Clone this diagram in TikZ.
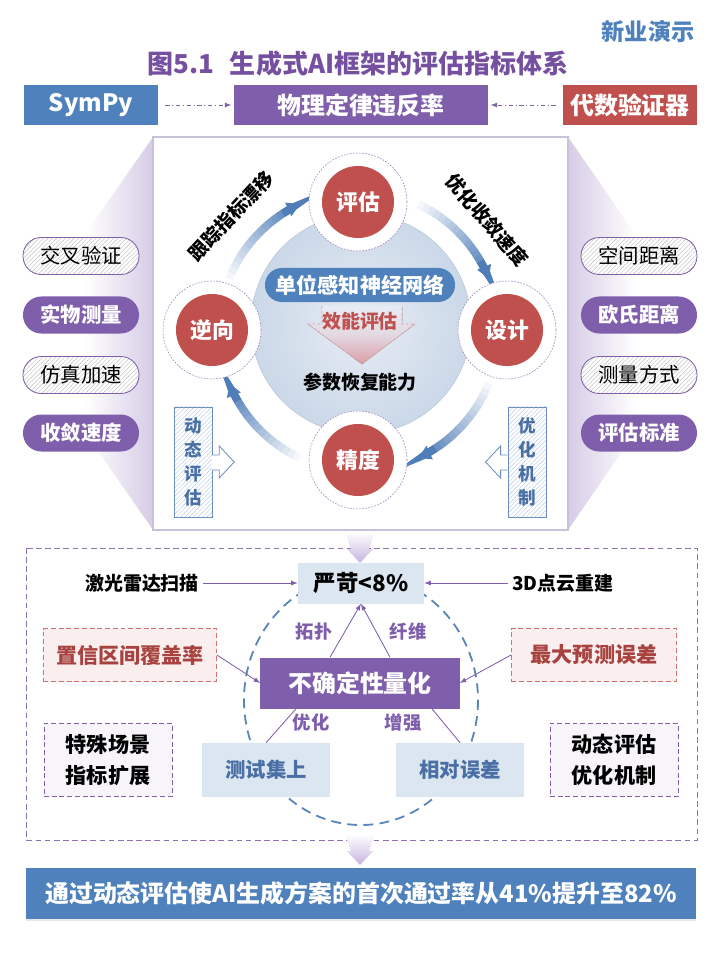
\documentclass[tikz,border=0pt]{standalone}
\usepackage{fontspec}
\setmainfont{Noto Sans CJK SC}
\usetikzlibrary{arrows.meta,patterns.meta,shadows,calc}
\definecolor{hdblue}{HTML}{4F81BD}
\definecolor{hdpurple}{HTML}{7F5FAB}
\definecolor{hdred}{HTML}{C0504D}
\definecolor{titlepurple}{HTML}{7650A0}
\definecolor{lavender}{HTML}{D6CCE6}
\definecolor{panelline}{HTML}{C9C1DA}
\definecolor{paleblue}{HTML}{DCE6F1}
\definecolor{hubin}{HTML}{E6ECF4}
\definecolor{hubout}{HTML}{CBD8E8}
\definecolor{hubline}{HTML}{B9C9DD}
\definecolor{arcblue}{HTML}{4F7DB8}
\definecolor{pinktip}{HTML}{DB9EA7}
\definecolor{boxblue}{HTML}{6E8FBE}
\definecolor{hatchblue}{HTML}{B9CBE3}
\definecolor{steelblue}{HTML}{4A6FA5}
\definecolor{brickred}{HTML}{A8423F}
\definecolor{palepink}{HTML}{FAEEEE}
\definecolor{palelilac}{HTML}{F7F4FA}
\definecolor{ellblue}{HTML}{5B86B8}
\definecolor{arrowlilac}{HTML}{C7B4E0}
\begin{document}
\begin{tikzpicture}[x=0.025cm,y=-0.025cm,>=latex,
  every node/.style={inner sep=0pt},
  topbox/.style={minimum height=0.975cm,text=white,font=\bfseries\fontsize{17}{20}\selectfont},
  pill/.style={rounded corners=13pt,minimum width=2.9cm,minimum height=0.925cm,font=\fontsize{14.5}{17}\selectfont},
  hatchpill/.style={pill,draw=hdpurple,line width=0.6pt,preaction={fill=white},pattern={Lines[angle=45,distance=2.2pt,line width=0.3pt]},pattern color=black!25},
  fillpill/.style={pill,fill=hdpurple,text=white,font=\bfseries\fontsize{14.5}{17}\selectfont},
  ring/.style={circle,draw=hdpurple!80,dash pattern=on 1.2pt off 1pt,line width=0.4pt,fill=white,minimum size=2.45cm},
  stage/.style={circle,fill=hdred,text=white,minimum size=1.8cm,font=\bfseries\fontsize{15.5}{18}\selectfont},
  vbox/.style={draw=boxblue,line width=0.6pt,minimum width=0.95cm,minimum height=2.75cm,preaction={fill=white},pattern={Lines[angle=45,distance=2.2pt,line width=0.3pt]},pattern color=hatchblue,text=steelblue,align=center,font=\bfseries\fontsize{12.5}{17}\selectfont},
  flow/.style={->,hdpurple,line width=0.6pt},
  bluebox/.style={fill=paleblue,font=\bfseries\fontsize{14.5}{17}\selectfont},
  redbox/.style={fill=palepink,draw=hdred!80,dash pattern=on 3.5pt off 2pt,line width=0.6pt,minimum height=1.325cm,text=brickred,font=\bfseries\fontsize{15}{18}\selectfont},
  notebox/.style={fill=palelilac,draw=hdpurple,dash pattern=on 3.5pt off 2pt,line width=0.6pt,minimum width=3.2cm,minimum height=1.825cm,align=center,font=\bfseries\fontsize{15}{22}\selectfont},
  tag/.style={text=hdpurple,font=\bfseries\fontsize{13}{15}\selectfont}]
  \useasboundingbox (0,0) rectangle (720,960);
  \node[text=hdblue,font=\bfseries\fontsize{16.5}{19}\selectfont] (brand) at (648,32) {新业演示};
  \node[text=titlepurple,font=\bfseries\fontsize{18.5}{22}\selectfont] (title) at (358,64) {图5.1\hspace{0.6em}生成式AI框架的评估指标体系};
  \node[topbox,fill=hdblue,minimum width=3.35cm] (sympy) at (91,105) {SymPy};
  \node[topbox,fill=hdpurple,minimum width=6.325cm] (law) at (361,105) {物理定律违反率};
  \node[topbox,fill=hdred,minimum width=3.35cm] (verifier) at (630,105) {代数验证器};
  \draw[flow,hdpurple!80!gray,dash dot,shorten <=5pt,shorten >=2pt] (sympy) -- (law);
  \draw[flow,hdpurple!80!gray,dash dot,shorten <=5pt,shorten >=2pt] (verifier) -- (law);

  \shade[left color=white,right color=lavender,middle color=white] (153,137) -- (16,333) -- (153,530) -- cycle;
  \shade[left color=lavender,right color=white,middle color=white] (568,137) -- (704,333) -- (568,530) -- cycle;
  \draw[panelline,line width=0.8pt,fill=white] (153,137) rectangle (568,530);

  \coordinate (hub) at (359,331);
  \draw[hubline,line width=0.4pt,inner color=hubin,outer color=hubout] (361,324) circle[radius=110];
  \foreach \a in {-158,-65,22,115}{
    \foreach \i in {0,...,13}{
      \pgfmathtruncatemacro\c{6+6*\i}
      \draw[line width=5.8pt,arcblue!\c!white] ([shift={(\a+2.5*\i:140)}]hub) arc[start angle=\a+2.5*\i,end angle=\a+2.5*\i+2.6,radius=140];
    }
    \draw[line width=5.8pt,arcblue,-{Triangle[length=9pt,width=10pt]}] ([shift={(\a+35:140)}]hub) arc[start angle=\a+35,end angle=\a+43,radius=140];
  }
  \fill[top color=hubin,bottom color=pinktip,middle color=hubin!75!pinktip] (322,306) -- (402,306) -- (402,324) -- (415,324) -- (362,364) -- (308,324) -- (322,324) -- cycle;
  \draw[pinktip,line width=0.5pt,dash pattern=on 2pt off 1.5pt] (322,306) -- (322,324) -- (308,324) -- (362,364) -- (415,324) -- (402,324) -- (402,306);
  \node[fill=hdblue,rounded corners=12pt,minimum width=4.75cm,minimum height=0.85cm,text=white,font=\bfseries\fontsize{15}{18}\selectfont] (unet) at (360,285) {单位感知神经网络};
  \node[text=hdred,font=\bfseries\fontsize{13.5}{16}\selectfont] (effic) at (360,321) {效能评估};
  \node[font=\bfseries\fontsize{13.5}{16}\selectfont] (recov) at (360,382) {参数恢复能力};
  \foreach \n/\x/\y/\t in {eval/358/202/评估,inverse/212/330/逆向,design/507/330/设计,prec/358/460/精度}{
    \node[ring] (\n ring) at (\x,\y) {};
    \node[stage] (\n) at (\x,\y) {\t};
  }
  \node[rotate=47,font=\bfseries\fontsize{13.5}{16}\selectfont] (drift) at (231,216) {跟踪指标漂移};
  \node[rotate=-49,font=\bfseries\fontsize{13.5}{16}\selectfont] (speed) at (487,220) {优化收敛速度};

  \node[vbox] (dyn) at (193,462) {动\\态\\评\\估};
  \node[vbox] (mech) at (527,462) {优\\化\\机\\制};
  \draw[boxblue,line width=0.6pt,fill=white] ($(dyn.east)+(0,-7)$) -- ++(7,0) -- ++(0,-9) -- ++(15,16) -- ++(-15,16) -- ++(0,-8) -- ++(-7,0);
  \draw[boxblue,line width=0.6pt,fill=white] ($(mech.west)+(0,-7)$) -- ++(-7,0) -- ++(0,-9) -- ++(-15,16) -- ++(15,16) -- ++(0,-8) -- ++(7,0);

  \node[hatchpill] (cross) at (81,256) {交叉验证};
  \node[fillpill] (physm) at (81,315) {实物测量};
  \node[hatchpill] (simacc) at (81,375) {仿真加速};
  \node[fillpill] (conv) at (81,433) {收敛速度};
  \node[hatchpill] (spdist) at (639,256) {空间距离};
  \node[fillpill] (eudist) at (639,315) {欧氏距离};
  \node[hatchpill] (measm) at (639,375) {测量方式};
  \node[fillpill] (crit) at (639,433) {评估标准};

  \draw[hdpurple!90,line width=0.7pt,dash pattern=on 4pt off 2.5pt] (26,548) rectangle (697,840);
  \shade[top color=white,bottom color=arrowlilac] (345,532) -- (375,532) -- (369,549) -- (373,549) -- (360,563) -- (347,549) -- (351,549) -- cycle;
  \draw[ellblue,line width=1.3pt,dash pattern=on 7pt off 4.5pt] (361,700) ellipse[x radius=117,y radius=125];
  \node[bluebox,minimum width=3.15cm,minimum height=1.025cm,font=\bfseries\fontsize{16}{19}\selectfont] (strict) at (361,583) {严苛<8\%};
  \node[font=\bfseries\fontsize{13.5}{16}\selectfont] (lidar) at (142,583) {激光雷达扫描};
  \node[font=\bfseries\fontsize{13.5}{16}\selectfont] (cloud) at (563,583) {3D点云重建};
  \draw[flow,shorten <=3pt] (lidar) -- (strict);
  \draw[flow,shorten <=3pt] (cloud) -- (strict);
  \node[fill=hdpurple,minimum width=4.975cm,minimum height=1.275cm,text=white,font=\bfseries\fontsize{17}{20}\selectfont] (uq) at (360,683) {不确定性量化};
  \node[redbox,minimum width=4.325cm] (conf) at (130,655) {置信区间覆盖率};
  \node[redbox,minimum width=4.125cm] (maxerr) at (594,655) {最大预测误差};
  \draw[flow] (conf.east) -- (uq.west);
  \draw[flow] (maxerr.west) -- (uq.east);
  \draw[flow] ($(uq.north)+(-30,0)$) -- (strict.south);
  \draw[flow] ($(uq.north)+(30,0)$) -- (strict.south);
  \node[tag] (topo) at (314,632) {拓扑};
  \node[tag] (fiber) at (408,632) {纤维};
  \node[bluebox,text=steelblue,minimum width=3.2cm,minimum height=1.35cm] (test) at (266,770) {测试集上};
  \node[bluebox,text=steelblue,minimum width=3.2cm,minimum height=1.35cm] (relerr) at (460,770) {相对误差};
  \draw[hdpurple,line width=0.6pt] (test.north) -- ($(uq.south)+(-64,0)$);
  \draw[hdpurple,line width=0.6pt] (relerr.north) -- ($(uq.south)+(72,0)$);
  \node[tag] (optim) at (311,723) {优化};
  \node[tag] (boost) at (403,723) {增强};
  \node[notebox] (scene) at (108,760) {特殊场景\\指标扩展};
  \node[notebox] (dynopt) at (614,760) {动态评估\\优化机制};

  \shade[top color=white,bottom color=arrowlilac] (345,834) -- (375,834) -- (369,851) -- (373,851) -- (360,865) -- (347,851) -- (351,851) -- cycle;
  \node[fill=hdblue,minimum width=16.75cm,minimum height=1.275cm,text=white,font=\bfseries\fontsize{17}{20}\selectfont,drop shadow={shadow xshift=0pt,shadow yshift=-1.5pt,opacity=0.18}] (banner) at (361,893) {通过动态评估使AI生成方案的首次通过率从41\%提升至82\%};
\end{tikzpicture}
\end{document}
